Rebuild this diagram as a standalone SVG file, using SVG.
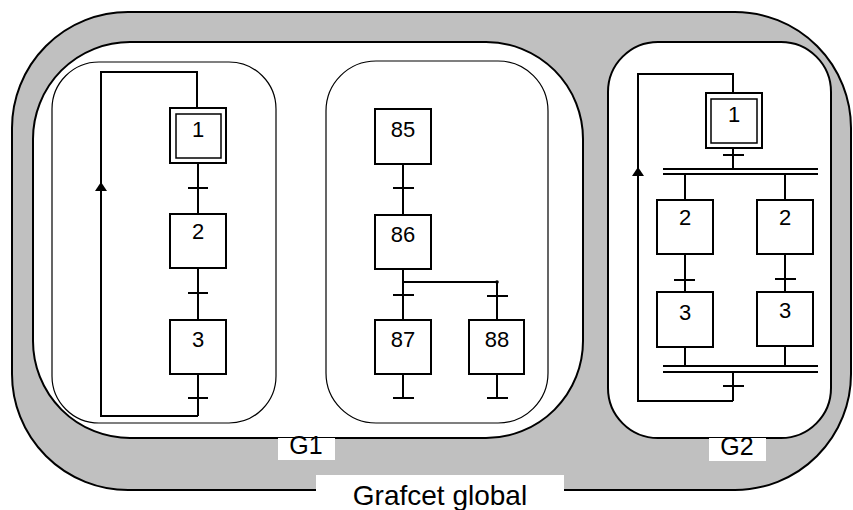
<svg xmlns="http://www.w3.org/2000/svg" xmlns:xlink="http://www.w3.org/1999/xlink" width="853" height="510" viewBox="0 0 853 510">
<style>
  .band { fill: #c0c0c0; stroke: #000; stroke-width: 2; }
  .region { fill: #fff; stroke: #000; stroke-width: 2; }
  .sub { fill: #fff; stroke: #000; stroke-width: 1.2; }
  .step { fill: #fff; stroke: #000; stroke-width: 2; }
  .inner { fill: none; stroke: #000; stroke-width: 1.5; }
  .link { fill: none; stroke: #000; stroke-width: 2; }
  .lbl { fill: #fff; stroke: none; }
  .num { font-family: "Liberation Sans", Arial, sans-serif; font-size: 22px; text-anchor: middle; fill: #000; }
  .gname { font-family: "Liberation Sans", Arial, sans-serif; font-size: 25px; text-anchor: middle; fill: #000; }
  .title { font-family: "Liberation Sans", Arial, sans-serif; font-size: 28px; text-anchor: middle; fill: #000; }
</style>
<defs>
  <path id="arrowUp" d="M0,0 L6,9 L-6,9 Z" fill="#000"/>
</defs>

<g id="grafcet-global">
  <rect class="band" x="12" y="12" width="839" height="478" rx="116" ry="116"/>
</g>
<g id="G1">
  <rect class="region" x="33" y="42" width="550" height="396" rx="97" ry="97"/>
  <rect class="sub" x="52" y="62" width="224" height="361" rx="47" ry="47"/>
  <rect class="sub" x="326" y="61" width="222" height="362" rx="50" ry="50"/>
</g>
<g id="G2">
  <rect class="region" x="608" y="42" width="223" height="396" rx="50" ry="50"/>
</g>
<g id="labels">
  <rect class="lbl" x="278" y="438" width="57" height="22"/>
  <text class="gname" x="306" y="454">G1</text>
  <rect class="lbl" x="709" y="438" width="57" height="23"/>
  <text class="gname" x="737" y="455">G2</text>
  <rect class="lbl" x="316" y="475" width="248" height="35"/>
  <text class="title" x="440" y="505">Grafcet global</text>
</g>

<g id="connectors">
  <!-- left grafcet -->
  <path class="link" d="M198,163 V214 M188,188 H208 M198,268 V320 M188,293 H208 M198,374 V416 M188,398 H208 M198,416 H101 V72 H197 V108"/>
  <path class="link" d="M101,191 V215" stroke-width="2.5"/>
  <use xlink:href="#arrowUp" x="101" y="182"/>
  <!-- middle grafcet -->
  <path class="link" d="M403,164 V215 M393,188 H414 M403,269 V320 M403,282 H497 V320 M393,295 H414 M487,296 H508 M403,374 V398 M393,398 H414 M497,374 V398 M487,398 H508"/>
  <circle cx="497" cy="282" r="1.8" fill="#000"/>
  <!-- G2 grafcet -->
  <path class="link" d="M733,148 V169 M723,155 H744 M663,169 H818 M663,174 H818 M685,174 V200 M785,174 V200 M685,254 V292 M674,280 H695 M785,254 V292 M775,279 H796 M685,347 V366 M785,347 V366 M663,366 H818 M663,372 H818 M733,372 V401 M723,386 H744 M733,401 H638 V74 H733 V93"/>
  <path class="link" d="M638,176 V197" stroke-width="2.5"/>
  <use xlink:href="#arrowUp" x="638" y="167"/>
</g>

<g id="step-L1">
  <rect class="step" x="170" y="108" width="56" height="55"/>
  <rect class="inner" x="176" y="114" width="45" height="44"/>
  <text class="num" x="198" y="137">1</text>
</g>
<g id="step-L2">
  <rect class="step" x="170" y="214" width="56" height="54"/>
  <text class="num" x="198" y="239">2</text>
</g>
<g id="step-L3">
  <rect class="step" x="170" y="320" width="56" height="54"/>
  <text class="num" x="198" y="347">3</text>
</g>
<g id="step-85">
  <rect class="step" x="375" y="109" width="56" height="55"/>
  <text class="num" x="403" y="137">85</text>
</g>
<g id="step-86">
  <rect class="step" x="375" y="215" width="56" height="54"/>
  <text class="num" x="403" y="242">86</text>
</g>
<g id="step-87">
  <rect class="step" x="375" y="320" width="56" height="54"/>
  <text class="num" x="403" y="347">87</text>
</g>
<g id="step-88">
  <rect class="step" x="469" y="320" width="55" height="54"/>
  <text class="num" x="497" y="347">88</text>
</g>
<g id="step-R1">
  <rect class="step" x="706" y="93" width="56" height="55"/>
  <rect class="inner" x="711" y="99" width="46" height="44"/>
  <text class="num" x="734" y="122">1</text>
</g>
<g id="step-R2a">
  <rect class="step" x="657" y="200" width="56" height="54"/>
  <text class="num" x="685" y="225">2</text>
</g>
<g id="step-R2b">
  <rect class="step" x="757" y="200" width="56" height="54"/>
  <text class="num" x="785" y="225">2</text>
</g>
<g id="step-R3a">
  <rect class="step" x="657" y="292" width="56" height="55"/>
  <text class="num" x="685" y="320">3</text>
</g>
<g id="step-R3b">
  <rect class="step" x="757" y="292" width="56" height="54"/>
  <text class="num" x="785" y="318">3</text>
</g>
</svg>
